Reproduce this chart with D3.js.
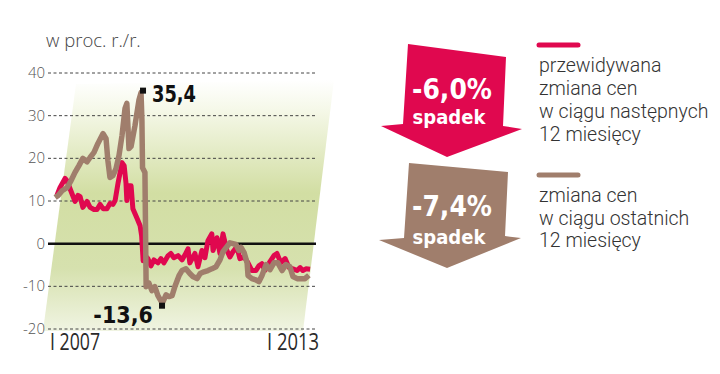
<!DOCTYPE html>
<html><head><meta charset="utf-8">
<script src="https://cdn.jsdelivr.net/npm/d3@7"></script>
<style>body{margin:0;background:#fff}svg{display:block}</style>
</head><body>
<svg id="c" width="720" height="374"></svg>
<script>
// months since Jan 2007
const redMonths = [2.3,3.3,5.0,5.6,7.3,8.3,9.3,10.0,10.9,12.3,13.3,14.6,15.6,16.6,17.6,18.9,19.9,20.9,21.6,22.6,23.9,24.6,25.2,25.5,25.9,26.9,27.5,28.9,29.9,30.4,30.9,31.9,32.5,33.5,34.5,35.8,36.8,37.8,39.2,40.1,41.1,42.5,43.8,44.8,45.8,46.4,48.1,49.1,50.4,51.4,52.4,53.7,54.1,55.4,56.4,57.4,58.7,59.7,60.7,62.0,63.0,64.4,65.7,67.0,68.3,69.3,70.3,71.3,73.0,74.3,75.3,76.6,78.0,79.3,80.6,82.0,83.0,83.9,84.9,86.3];
const redValues = [11.3,13.1,15.3,14.8,11.7,9.9,11.3,11.0,8.5,9.9,8.5,8.0,8.0,9.2,8.2,8.2,9.4,9.2,10.1,14.3,19.0,18.3,14.3,10.1,13.6,13.6,8.2,5.9,4.2,1.9,-4.0,-3.1,-3.5,-5.2,-3.8,-4.5,-3.5,-4.5,-2.8,-2.3,-3.3,-2.8,-3.8,-2.6,-1.2,-4.5,-2.3,-5.4,-1.6,-3.3,0.7,2.3,-1.6,1.4,-2.3,2.3,-1.6,-3.1,-1.9,-0.7,-3.5,-3.1,-4.5,-6.3,-6.3,-5.2,-4.7,-6.3,-4.2,-2.8,-2.3,-4.5,-3.5,-5.6,-5.9,-6.3,-5.6,-6.3,-5.9,-6.0];
const brownMonths = [1.7,2.7,4.0,5.6,7.0,8.3,9.6,10.9,12.3,13.3,14.6,15.9,17.6,18.6,19.2,19.9,20.9,21.9,22.9,23.9,24.9,25.5,26.2,26.9,28.2,29.5,30.2,30.5,30.7,31.5,31.7,31.9,32.8,33.8,34.8,35.8,36.8,37.5,38.5,39.5,40.5,41.5,42.8,43.8,45.1,46.4,47.4,48.8,49.8,51.1,52.4,53.7,55.1,56.4,57.4,58.7,59.7,60.7,61.7,62.7,63.4,64.4,65.4,65.7,67.0,68.3,69.3,70.3,71.7,73.0,74.3,75.6,77.0,78.3,79.6,80.6,82.0,83.3,84.6,85.9];
const brownValues = [10.8,11.3,12.4,13.1,14.8,16.7,18.3,20.0,19.2,20.2,21.4,23.5,25.8,24.6,19.5,15.5,16.0,17.6,20.7,25.4,31.7,32.9,22.3,22.8,27.7,33.6,35.4,28.9,17.8,16.7,3.1,-10.1,-9.2,-11.0,-10.1,-12.2,-13.4,-13.6,-12.0,-12.4,-12.2,-9.9,-7.5,-6.3,-5.9,-7.0,-7.7,-8.2,-7.0,-6.6,-6.3,-5.9,-5.4,-3.8,-1.9,-0.7,0.2,0.0,-0.2,-1.6,-0.9,-2.1,-4.5,-7.5,-8.2,-8.5,-8.9,-7.5,-4.9,-6.1,-4.5,-4.5,-6.3,-4.9,-5.4,-7.7,-8.2,-8.2,-8.2,-7.4];
const yTicks = [-20,-10,0,10,20,30,40];
const xTickMonths = [0,72];
const xTickLabels = ["I 2007","I 2013"];
const maxLabel = {month:30.2, value:35.4, text:"35,4"};
const minLabel = {month:37.5, value:-13.6, text:"-13,6"};
const legendRed = {value:"-6,0%", word:"spadek", lines:["przewidywana","zmiana cen","w ciągu następnych","12 miesięcy"]};
const legendBrown = {value:"-7,4%", word:"spadek", lines:["zmiana cen","w ciągu ostatnich","12 miesięcy"]};
const unitLabel = "w proc. r./r.";

const RED = "#e0084f", BROWN = "#a07e6c";
const svg = d3.select("#c");
const x = d3.scaleLinear().domain([0,72]).range([50,267]);
const y = d3.scaleLinear().domain([-20,40]).range([329,73]);

// gradient background
const defs = svg.append("defs");
const g = defs.append("linearGradient").attr("id","bg").attr("x1",0).attr("y1",0).attr("x2",0).attr("y2",1);
[[0,"#ffffff"],[0.12,"#f5f8e8"],[0.45,"#d2dea3"],[0.75,"#d6e1ae"],[1,"#f0f4e2"]].forEach(s=>
  g.append("stop").attr("offset",s[0]).attr("stop-color",s[1]));
svg.append("polygon").attr("points","76,84 334,80 303,331 43,331").attr("fill","url(#bg)");

// grid
svg.append("g").selectAll("line").data(yTicks.filter(d=>d!==0)).join("line")
  .attr("x1",48).attr("x2",316).attr("y1",d=>y(d)).attr("y2",d=>y(d))
  .attr("stroke","#444").attr("stroke-width",1).attr("stroke-dasharray","3,2.5");
svg.append("line").attr("x1",48).attr("x2",316).attr("y1",y(0)).attr("y2",y(0))
  .attr("stroke","#111").attr("stroke-width",2.5);

// y tick labels
svg.append("g").selectAll("text").data(yTicks).join("text")
  .attr("x",45).attr("y",d=>y(d)+5).attr("text-anchor","end")
  .attr("font-family","Open Sans").attr("font-weight",300).attr("font-size",15).attr("fill","#555")
  .text(d=>d);
// x tick labels
const xLens = [50,52];
svg.append("g").selectAll("text").data(xTickMonths).join("text")
  .attr("x",d=>x(d)).attr("y",350)
  .attr("font-family","Open Sans").attr("font-weight",400).attr("font-size",23).attr("fill","#2a2a2a")
  .attr("textLength",(d,i)=>xLens[i]).attr("lengthAdjust","spacingAndGlyphs")
  .text((d,i)=>xTickLabels[i]);
svg.append("text").attr("x",46).attr("y",47).attr("font-family","Open Sans").attr("font-weight",300)
  .attr("font-size",18.5).attr("fill","#444").text(unitLabel);

// lines
const line = d3.line().x(d=>x(d[0])).y(d=>y(d[1]));
svg.append("path").datum(redMonths.map((m,i)=>[m,redValues[i]])).attr("d",line)
  .attr("fill","none").attr("stroke",RED).attr("stroke-width",5).attr("stroke-linejoin","round");
svg.append("path").datum(brownMonths.map((m,i)=>[m,brownValues[i]])).attr("d",line)
  .attr("fill","none").attr("stroke",BROWN).attr("stroke-width",5.5).attr("stroke-linejoin","round");

// annotations
const ann = svg.append("g").attr("font-family","DejaVu Sans Condensed").attr("font-weight","bold").attr("fill","#111");
ann.append("rect").attr("x",x(maxLabel.month)-1).attr("y",y(maxLabel.value)-5).attr("width",6).attr("height",6);
ann.append("text").attr("x",x(maxLabel.month)+11).attr("y",y(maxLabel.value)+9).attr("font-size",23)
  .attr("textLength",44).attr("lengthAdjust","spacingAndGlyphs").text(maxLabel.text);
ann.append("rect").attr("x",x(minLabel.month)-4).attr("y",y(minLabel.value)+1).attr("width",6).attr("height",6);
ann.append("text").attr("x",x(minLabel.month)-10).attr("y",y(minLabel.value)+21).attr("text-anchor","end").attr("font-size",23).text(minLabel.text);

// arrows
svg.append("polygon").attr("points","408,44 506,57 503,126 522,129 447,157 381,126 403,124").attr("fill",RED);
svg.append("polygon").attr("points","409,163 508,172 505,236 521,238 447,268 379,240 404,238").attr("fill",BROWN);
function arrowText(d, cy1, cy2){
  svg.append("text").attr("x",452).attr("y",cy1).attr("text-anchor","middle").attr("font-family","DejaVu Sans Condensed")
    .attr("font-weight","bold").attr("font-size",28).attr("fill","#fff")
    .attr("textLength",80).attr("lengthAdjust","spacingAndGlyphs").text(d.value);
  svg.append("text").attr("x",449).attr("y",cy2).attr("text-anchor","middle").attr("font-family","DejaVu Sans Condensed")
    .attr("font-weight","bold").attr("font-size",20).attr("fill","#fff").text(d.word);
}
arrowText(legendRed,99,124);
arrowText(legendBrown,216,244);

// legend
function legend(d, color, barY, y0, dy){
  svg.append("line").attr("x1",539).attr("x2",578).attr("y1",barY).attr("y2",barY)
    .attr("stroke",color).attr("stroke-width",5).attr("stroke-linecap","round");
  svg.append("g").selectAll("text").data(d.lines).join("text")
    .attr("x",539).attr("y",(t,i)=>y0+i*dy).attr("font-family","Roboto").attr("font-weight",300)
    .attr("font-size",19.5).attr("fill","#333").text(t=>t);
}
legend(legendRed, RED, 45, 72, 23);
legend(legendBrown, BROWN, 175, 202, 22.5);
</script>
</body></html>
